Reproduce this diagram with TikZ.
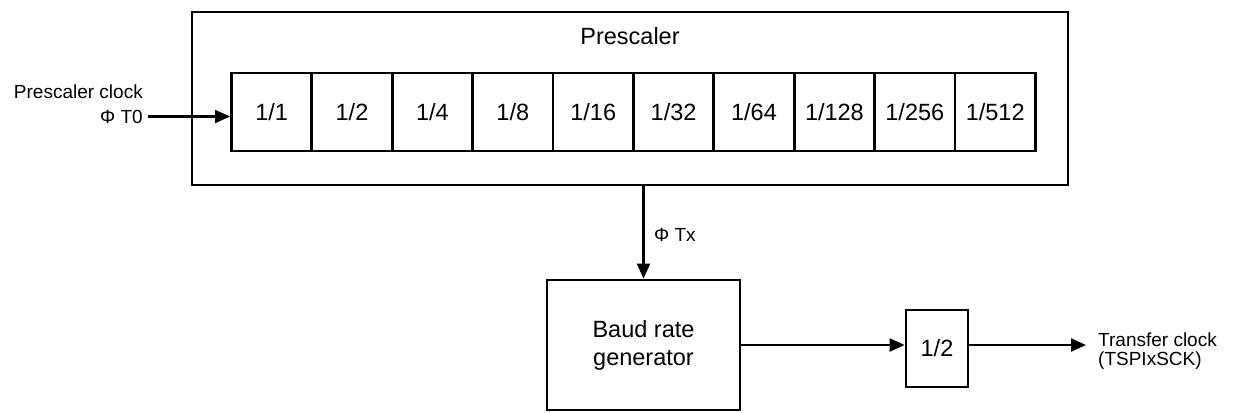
\documentclass[tikz,border=0pt]{standalone}
\usepackage{fontspec}
\setmainfont{Liberation Sans}
\usetikzlibrary{arrows.meta}
\begin{document}
\begin{tikzpicture}[x=1pt,y=-1pt,
  box/.style={draw=black, line width=2.8pt, fill=white, inner sep=0pt,
    font=\fontsize{23.5}{28}\selectfont, align=center},
  cell/.style={box, minimum width=80.4pt, minimum height=78pt},
  lbl/.style={inner sep=0pt, font=\fontsize{19}{24.7}\selectfont},
  arr/.style={line width=2.2pt, -{Triangle[length=15pt,width=13pt]}}]
  \useasboundingbox (0,0) rectangle (1236,412);

  % prescaler block with its divider chain
  \node[box, minimum width=876pt, minimum height=173pt] (pre) at (630,98.5) {};
  \node[inner sep=0pt, font=\fontsize{23.5}{28}\selectfont] (pretitle) at (630,36) {Prescaler};
  \foreach \t [count=\i] in {1/1,1/2,1/4,1/8,1/16,1/32,1/64,1/128,1/256,1/512} {
    \node[cell] (c\i) at ({231.4+80.4*(\i-0.5)},112) {\t};
  }

  % clock input
  \node[lbl, anchor=east, align=right] (inlbl) at (143,104.5) {Prescaler clock\\Φ T0};
  \coordinate (in) at (148,116.5);
  \draw[arr] (in) -- (c1.west |- in);

  % baud rate generator
  \node[box, minimum width=193pt, minimum height=130pt] (baud) at (643.5,345) {Baud rate\\generator};
  \draw[arr] (baud.north |- pre.south) -- (baud.north);
  \node[lbl, anchor=west] (tx) at (654,235) {Φ Tx};

  % final divide by two
  \node[box, minimum width=62pt, minimum height=77pt] (half) at (937,348.5) {1/2};
  \draw[arr] (baud.east) -- (half.west |- baud.east);
  \coordinate (out) at (1086,345);
  \draw[arr] (half.east |- baud.east) -- (out);
  \node[lbl, anchor=west, align=left, font=\fontsize{19}{18.3}\selectfont] (outlbl) at (1098,351) {Transfer clock\\(TSPIxSCK)};
\end{tikzpicture}
\end{document}
